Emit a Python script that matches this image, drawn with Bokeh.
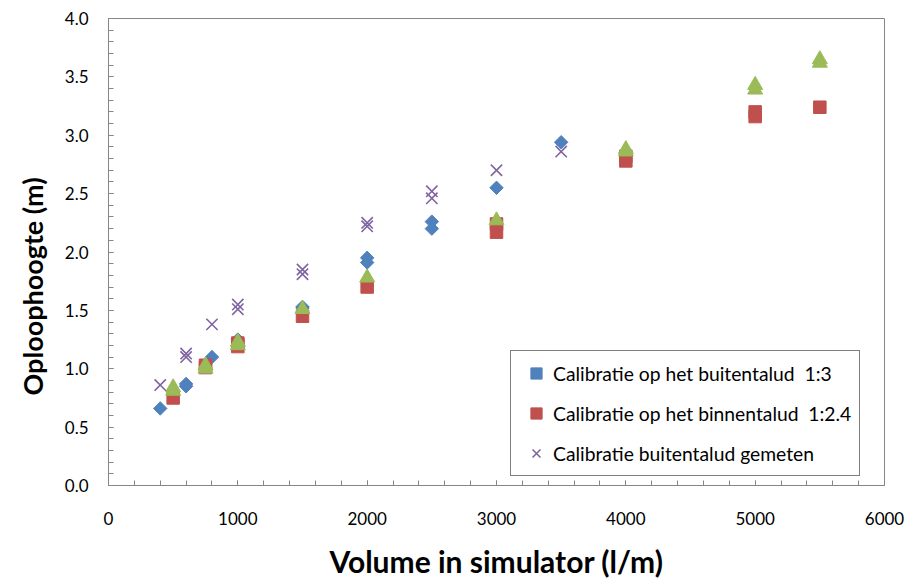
import math
from bokeh.plotting import figure
from bokeh.models import (Legend, LegendItem, SingleIntervalTicker, NumeralTickFormatter, Title)
from bokeh.embed import file_html
from bokeh.resources import INLINE

# Calibratie op het buitentalud 1:3 (blue diamonds)
buiten_x = [400, 600, 600, 800, 1000, 1500, 1500, 2000, 2000, 2500, 2500, 3000, 3500]
buiten_y = [0.66, 0.87, 0.85, 1.10, 1.25, 1.53, 1.52, 1.95, 1.91, 2.26, 2.20, 2.55, 2.94]

# Calibratie op het binnentalud 1:2.4 (red squares)
binnen_x = [500, 750, 750, 1000, 1000, 1500, 2000, 3000, 3000, 4000, 4000, 5000, 5000, 5500]
binnen_y = [0.75, 1.03, 1.01, 1.22, 1.19, 1.45, 1.70, 2.24, 2.17, 2.82, 2.78, 3.20, 3.16, 3.24]

# Fourth series, not in legend (green triangles)
groen_x = [500, 500, 750, 750, 1000, 1000, 1500, 2000, 3000, 4000, 4000, 5000, 5000, 5500, 5500]
groen_y = [0.84, 0.81, 1.03, 1.00, 1.23, 1.20, 1.51, 1.78, 2.27, 2.88, 2.86, 3.43, 3.39, 3.65, 3.62]

# Calibratie buitentalud gemeten (purple crosses)
gemeten_x = [400, 600, 600, 800, 1000, 1000, 1500, 1500, 2000, 2000, 2500, 2500, 3000, 3500]
gemeten_y = [0.86, 1.13, 1.10, 1.38, 1.55, 1.51, 1.85, 1.81, 2.25, 2.22, 2.52, 2.46, 2.70, 2.86]

labels = ["Calibratie op het buitentalud  1:3",
          "Calibratie op het binnentalud  1:2.4",
          "Calibratie buitentalud gemeten"]
x_title = "Volume in simulator (l/m)"
y_title = "Oploophoogte (m)"

FONT = "Lato"
AXIS_COLOR = "#868686"

p = figure(width=905, height=583, x_range=(0, 6000), y_range=(0, 4),
           output_backend="svg", toolbar_location=None,
           min_border_left=108, min_border_right=21, min_border_top=18, min_border_bottom=98)

p.xgrid.visible = False
p.ygrid.visible = False
p.outline_line_color = AXIS_COLOR
p.outline_line_width = 1
p.background_fill_color = "white"
p.border_fill_color = "white"

p.xaxis.ticker = SingleIntervalTicker(interval=1000, num_minor_ticks=5)
p.yaxis.ticker = SingleIntervalTicker(interval=0.5, num_minor_ticks=5)
p.yaxis.formatter = NumeralTickFormatter(format="0.0")
p.xaxis.formatter = NumeralTickFormatter(format="0")

for ax in (p.xaxis, p.yaxis):
    ax.axis_line_color = AXIS_COLOR
    ax.major_tick_line_color = AXIS_COLOR
    ax.minor_tick_line_color = AXIS_COLOR
    ax.major_tick_in = 5
    ax.major_tick_out = 0
    ax.minor_tick_in = 5
    ax.minor_tick_out = 0
    ax.major_label_text_font = FONT
    ax.major_label_text_font_size = "17px"
    ax.major_label_text_color = "black"
    ax.axis_label_text_font = FONT
    ax.axis_label_text_font_style = "bold"
    ax.axis_label_text_color = "black"

p.xaxis.axis_label = x_title
p.xaxis.axis_label_text_font_size = "30px"
p.xaxis.major_label_standoff = 26
p.xaxis.axis_label_standoff = 15

p.yaxis.major_label_standoff = 20

# y-axis title as a side title, outside the y axis
ytitle = Title(text=y_title, align="left", offset=90, standoff=26,
               text_font=FONT, text_font_style="bold", text_font_size="27px",
               text_color="black")
p.add_layout(ytitle, "left")

r_blue = p.scatter(buiten_x, buiten_y, marker="square", angle=math.pi / 4, size=9.5,
                   fill_color="#4F81BD", line_color="#4F81BD")
r_red = p.scatter(binnen_x, binnen_y, marker="square", size=12.5,
                  fill_color="#C0504D", line_color="#C0504D")
r_green = p.scatter(groen_x, groen_y, marker="triangle", size=15,
                    fill_color="#9BBB59", line_color="#9BBB59")
r_purple = p.scatter(gemeten_x, gemeten_y, marker="x", size=16,
                     line_color="#8064A2", line_width=1.6)

legend = Legend(items=[LegendItem(label=labels[0], renderers=[r_blue]),
                       LegendItem(label=labels[1], renderers=[r_red]),
                       LegendItem(label=labels[2], renderers=[r_purple])],
                location=(402, 9))
legend.border_line_color = "black"
legend.border_line_width = 1
legend.background_fill_color = "white"
legend.background_fill_alpha = 1
legend.label_text_font = FONT
legend.label_text_font_size = "19.3px"
legend.label_text_color = "black"
legend.glyph_width = 34
legend.glyph_height = 28
legend.label_height = 28
legend.label_standoff = 0
legend.spacing = 12
legend.padding = 8
legend.margin = 0
p.add_layout(legend)

open("out.html", "w").write(file_html(p, INLINE))
